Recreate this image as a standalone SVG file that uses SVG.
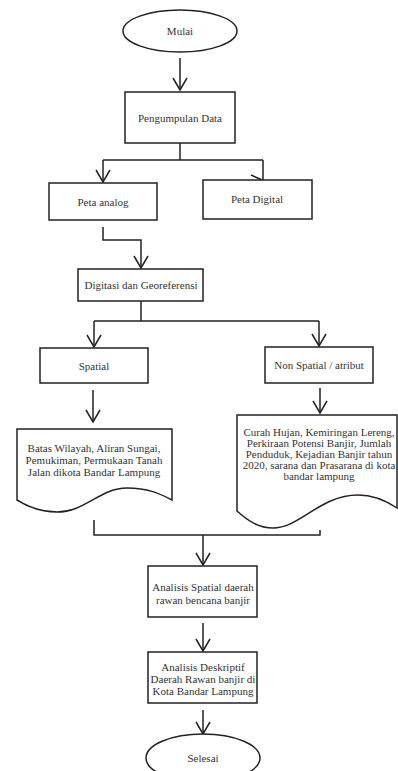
<svg xmlns="http://www.w3.org/2000/svg" width="398" height="771" viewBox="0 0 398 771">
<style>
.shape{fill:#fff;stroke:#222;stroke-width:1.5}
.conn{fill:none;stroke:#222;stroke-width:1.5}
.t{font-family:"Liberation Serif","Times New Roman",serif;font-size:11px;fill:#333;text-anchor:middle}
</style>
<defs>
<marker id="arr" markerUnits="userSpaceOnUse" markerWidth="16" markerHeight="16" refX="0" refY="0" orient="auto" overflow="visible">
<path d="M-12,-7 L0,0 L-12,7" fill="none" stroke="#222" stroke-width="1.5"/>
</marker>
</defs>
<rect width="398" height="771" fill="#fff"/>
<g id="connectors">
<path class="conn" d="M180,58 V90" marker-end="url(#arr)"/>
<path class="conn" d="M180,143 V160 M103,160 H263"/>
<path class="conn" d="M103,160 V182" marker-end="url(#arr)"/>
<path class="conn" d="M263,160 V180 M251,175 L262,180"/>
<path class="conn" d="M103,227 V240 H141 V268" marker-end="url(#arr)"/>
<path class="conn" d="M141,301 V321 M94,321 H319"/>
<path class="conn" d="M94,321 V347" marker-end="url(#arr)"/>
<path class="conn" d="M319,321 V346" marker-end="url(#arr)"/>
<path class="conn" d="M93,390 V422" marker-end="url(#arr)"/>
<path class="conn" d="M320,388 V413" marker-end="url(#arr)"/>
<path class="conn" d="M94,520 V535 H320 V530"/>
<path class="conn" d="M203,535 V565" marker-end="url(#arr)"/>
<path class="conn" d="M203,623 V651" marker-end="url(#arr)"/>
<path class="conn" d="M203,710 V734" marker-end="url(#arr)"/>
</g>
<g id="mulai">
<ellipse class="shape" cx="180" cy="31" rx="57" ry="21"/>
<text class="t" x="180" y="35">Mulai</text>
</g>
<g id="pengumpulan">
<rect class="shape" x="125" y="92" width="110" height="51"/>
<text class="t" x="180" y="122">Pengumpulan Data</text>
</g>
<g id="peta-analog">
<rect class="shape" x="49" y="183" width="108" height="37"/>
<text class="t" x="103" y="206">Peta analog</text>
</g>
<g id="peta-digital">
<rect class="shape" x="203" y="180" width="109" height="39"/>
<text class="t" x="257" y="203">Peta Digital</text>
</g>
<g id="digitasi">
<rect class="shape" x="78" y="269" width="125" height="32"/>
<text class="t" x="141" y="289">Digitasi dan Georeferensi</text>
</g>
<g id="spatial">
<rect class="shape" x="40" y="348" width="108" height="35"/>
<text class="t" x="94" y="370">Spatial</text>
</g>
<g id="non-spatial">
<rect class="shape" x="265" y="347" width="108" height="36"/>
<text class="t" x="319" y="369">Non Spatial / atribut</text>
</g>
<g id="data-spatial">
<path class="shape" d="M17,429 H172 V500 C162,495 150,488 127,488 C100,488 85,512 57,512 C40,512 28,507 17,500 Z"/>
<text class="t" x="94" y="452">Batas Wilayah, Aliran Sungai,</text>
<text class="t" x="94" y="464">Pemukiman, Permukaan Tanah</text>
<text class="t" x="94" y="476">Jalan dikota Bandar Lampung</text>
</g>
<g id="data-atribut">
<path class="shape" d="M237,415 H397 V508 C385,500 372,495 358,495 C320,495 300,528 273,528 C258,528 247,520 237,511 Z"/>
<text class="t" x="319" y="436">Curah Hujan, Kemiringan Lereng,</text>
<text class="t" x="319" y="447">Perkiraan Potensi Banjir, Jumlah</text>
<text class="t" x="319" y="458">Penduduk, Kejadian Banjir tahun</text>
<text class="t" x="319" y="469">2020, sarana dan Prasarana di kota</text>
<text class="t" x="319" y="480">bandar lampung</text>
</g>
<g id="analisis-spatial">
<rect class="shape" x="148" y="566" width="109" height="51"/>
<text class="t" x="203" y="591">Analisis Spatial daerah</text>
<text class="t" x="203" y="604">rawan bencana banjir</text>
</g>
<g id="analisis-deskriptif">
<rect class="shape" x="148" y="652" width="109" height="51"/>
<text class="t" x="203" y="671">Analisis Deskriptif</text>
<text class="t" x="203" y="683">Daerah Rawan banjir di</text>
<text class="t" x="203" y="695">Kota Bandar Lampung</text>
</g>
<g id="selesai">
<ellipse class="shape" cx="203" cy="758" rx="57" ry="24"/>
<text class="t" x="203" y="762">Selesai</text>
</g>
</svg>
